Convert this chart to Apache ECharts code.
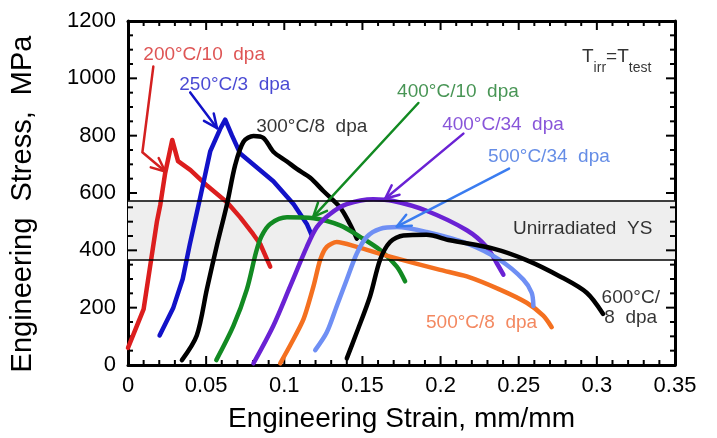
<!DOCTYPE html>
<html><head><meta charset="utf-8">
<script src="https://cdn.jsdelivr.net/npm/echarts@6/dist/echarts.min.js"></script>
<style>html,body{margin:0;padding:0;background:#fff}#c{width:717px;height:438px}</style>
</head><body><div id="c"></div>
<script>
// ---- data (strain mm/mm, stress MPa) ----
const red200 = [[0,60],[0.010,195],[0.0185,500],[0.0207,560],[0.0238,670],[0.0283,785],[0.032,711],[0.040,680],[0.0507,625],[0.0635,567],[0.0718,515],[0.080,457],[0.0846,422],[0.091,343]];
const blue250 = [[0.0202,103],[0.029,200],[0.0350,300],[0.0395,420],[0.0462,584],[0.0526,745],[0.059,824],[0.0622,856],[0.0665,801],[0.0718,738],[0.093,641],[0.106,561],[0.1144,492],[0.1176,452]];
const black300 = [[0.0345,17],[0.044,103],[0.0505,265],[0.057,420],[0.0633,560],[0.0686,698],[0.0739,779],[0.0803,799],[0.0867,792],[0.093,744],[0.1017,710],[0.108,684],[0.1166,653],[0.125,607],[0.1357,550],[0.142,492],[0.1464,441]];
const green400_10 = [[0.0565,17],[0.0675,137],[0.076,263],[0.0820,395],[0.0855,450],[0.091,492],[0.1017,515],[0.1187,512],[0.1357,487],[0.1485,447],[0.1613,401],[0.172,343],[0.1773,292]];
const purple400_34 = [[0.0803,6],[0.093,137],[0.1038,275],[0.1144,412],[0.1208,481],[0.1293,527],[0.14,561],[0.157,578],[0.1698,572],[0.191,538],[0.2168,470],[0.2295,412],[0.236,355],[0.2402,315]];
const orange500_8 = [[0.0974,6],[0.1038,69],[0.1123,160],[0.1187,275],[0.123,367],[0.1272,412],[0.1336,429],[0.1464,412],[0.1677,378],[0.1997,332],[0.2168,309],[0.238,263],[0.2551,217],[0.2657,172],[0.2711,132]];
const lblue500_34 = [[0.1198,52],[0.1272,114],[0.1336,206],[0.14,298],[0.1464,389],[0.1528,447],[0.1613,475],[0.172,481],[0.191,464],[0.2168,424],[0.238,366],[0.253,298],[0.2583,252],[0.2594,206]];
const black600 = [[0.14,23],[0.1464,114],[0.1549,240],[0.1613,367],[0.1677,429],[0.1762,452],[0.191,454],[0.206,435],[0.2338,406],[0.255,366],[0.2764,309],[0.2935,252],[0.304,178]];

// unirradiated yield strength band
const ysLow = 367, ysHigh = 574;

// arrows (label -> curve), last point is the tip
const redArrow = [[0.0162,1041],[0.0092,742],[0.0238,675]];
const blueArrow = [[0.0398,951],[0.057,826]];
const greenArrow = [[0.1858,914],[0.1185,517]];
const purpleArrow = [[0.2146,807],[0.1645,580]];
const lblueArrow = [[0.2438,685],[0.172,483]];

// text annotations: [text, x, y, color, align]
const notes = [
  ['200°C/10  dpa', 0.0098, 1082, '#d62a2a', 'left'],
  ['250°C/3  dpa', 0.0328, 979, '#1a1ac8', 'left'],
  ['300°C/8  dpa', 0.082, 831, '#000000', 'left'],
  ['400°C/10  dpa', 0.1722, 952, '#1a7a2a', 'left'],
  ['400°C/34  dpa', 0.201, 838, '#6a2ad0', 'left'],
  ['500°C/34  dpa', 0.2304, 725, '#3f70e0', 'left'],
  ['Unirradiated  YS', 0.2463, 474, '#000000', 'left'],
  ['600°C/\n8  dpa', 0.3217, 198, '#000000', 'center'],
  ['500°C/8  dpa', 0.1907, 148, '#f06a38', 'left']
];
const tirrPos = [0.2905, 1060];

const xTicks = [0,0.05,0.1,0.15,0.2,0.25,0.3,0.35];
const yTicks = [0,200,400,600,800,1000,1200];
const xMinorPerMajor = 5, yMinorPerMajor = 4;

const FONT = 'Liberation Sans, Arial, Helvetica, sans-serif';
const chart = echarts.init(document.getElementById('c'), null, {renderer:'canvas'});
const X0 = xTicks[0], X1 = xTicks[xTicks.length-1], Y0 = yTicks[0], Y1 = yTicks[yTicks.length-1];

// tick marks (inside, on all four sides): [value, dim(0=x,1=y), length]
const tickItems = [];
function addTicks(ticks, n, dim){
  for (let i=0;i<ticks.length;i++){
    tickItems.push([ticks[i], dim, 9]);
    if (i<ticks.length-1){
      const step = (ticks[i+1]-ticks[i])/n;
      for (let k=1;k<n;k++) tickItems.push([ticks[i]+k*step, dim, 5]);
    }
  }
}
addTicks(xTicks, xMinorPerMajor, 0);
addTicks(yTicks, yMinorPerMajor, 1);

const arrowList = [
  [redArrow,'#d42020'],[blueArrow,'#1212c8'],[greenArrow,'#128a22'],
  [purpleArrow,'#6a22d4'],[lblueArrow,'#3a7cf0']
];

function mkAxis(dim, pos, ticks, interval, showLabel){
  return {
    type:'value', position:pos, min:ticks[0], max:ticks[ticks.length-1], interval:interval,
    axisLine:{show:true,onZero:false,lineStyle:{color:'#000',width:3}},
    axisTick:{show:false}, minorTick:{show:false},
    splitLine:{show:false}, minorSplitLine:{show:false},
    axisLabel:{show:showLabel,color:'#000',fontSize:22,fontFamily:FONT,margin:dim==='x'?10:12,
      formatter:v=>String(parseFloat(Number(v).toFixed(2)))}
  };
}
function curve(data,color,smooth){
  return {type:'line',data:data,showSymbol:false,symbol:'none',smooth:smooth,z:3,
    lineStyle:{color:color,width:4.5,cap:'round',join:'round'}};
}

const xMain = mkAxis('x','bottom',xTicks,0.05,true);
Object.assign(xMain,{name:'Engineering Strain, mm/mm',nameLocation:'middle',nameGap:40,
  nameTextStyle:{fontSize:28,fontFamily:FONT,color:'#000'}});
const yMain = mkAxis('y','left',yTicks,200,true);
Object.assign(yMain,{name:'Engineering  Stress,  MPa',nameLocation:'middle',nameGap:91,
  nameTextStyle:{fontSize:29,fontFamily:FONT,color:'#000',padding:[0,22,0,0]}});

const option = {
  animation:false,
  grid:{left:128,right:42,top:21,bottom:68},
  xAxis:[xMain, mkAxis('x','top',xTicks,0.05,false)],
  yAxis:[yMain, mkAxis('y','right',yTicks,200,false)],
  series:[
    {type:'line',data:[],z:1,
      markArea:{silent:true,itemStyle:{color:'#eeeeee'},
        data:[[{coord:[X0,ysLow]},{coord:[X1,ysHigh]}]]},
      markLine:{silent:true,symbol:'none',label:{show:false},lineStyle:{color:'#000',width:1.5,type:'solid'},
        data:[{yAxis:ysLow},{yAxis:ysHigh}]}},
    {type:'custom',z:2,silent:true,clip:false,data:tickItems,
      renderItem:function(params,api){
        const v = api.value(0), dim = api.value(1), len = api.value(2);
        const st = {stroke:'#000',lineWidth:2};
        if (dim===0){
          const a = api.coord([v,Y0]), b = api.coord([v,Y1]);
          return {type:'group',children:[
            {type:'line',shape:{x1:a[0],y1:a[1],x2:a[0],y2:a[1]-len},style:st},
            {type:'line',shape:{x1:b[0],y1:b[1],x2:b[0],y2:b[1]+len},style:st}]};
        } else {
          const a = api.coord([X0,v]), b = api.coord([X1,v]);
          return {type:'group',children:[
            {type:'line',shape:{x1:a[0],y1:a[1],x2:a[0]+len,y2:a[1]},style:st},
            {type:'line',shape:{x1:b[0],y1:b[1],x2:b[0]-len,y2:b[1]},style:st}]};
        }
      }},
    curve(red200,'#dc1e1e',false),
    curve(blue250,'#1212c8',false),
    curve(black300,'#000000',0.3),
    curve(green400_10,'#128a22',0.3),
    curve(purple400_34,'#6a22d4',0.3),
    curve(orange500_8,'#f47020',0.25),
    curve(lblue500_34,'#6f8ff4',0.3),
    curve(black600,'#000000',0.3),
    {type:'custom',z:4,silent:true,clip:false,data:arrowList.map((a,i)=>[a[0][a[0].length-1][0],a[0][a[0].length-1][1],i]),
      renderItem:function(params,api){
        const idx = api.value(2);
        const arr = arrowList[idx];
        const pts = arr[0].map(p=>api.coord(p));
        const tip = pts[pts.length-1], prev = pts[pts.length-2];
        const ang = Math.atan2(tip[1]-prev[1], tip[0]-prev[0]);
        const L = 15, spread = 0.42;
        const h1 = [tip[0]-L*Math.cos(ang-spread), tip[1]-L*Math.sin(ang-spread)];
        const h2 = [tip[0]-L*Math.cos(ang+spread), tip[1]-L*Math.sin(ang+spread)];
        const st = {stroke:arr[1],lineWidth:2.5,fill:null,lineJoin:'round',lineCap:'round'};
        return {type:'group',children:[
          {type:'polyline',shape:{points:pts},style:st},
          {type:'polyline',shape:{points:[h1,tip,h2]},style:st}]};
      }},
    {type:'scatter',symbolSize:0,z:5,silent:true,
      data:notes.map(n=>({value:[n[1],n[2]],name:n[0],
        label:{show:true,position:[0,0],formatter:n[0],color:n[3],align:n[4],verticalAlign:'middle',
          fontSize:19,fontFamily:FONT,lineHeight:20}}))},
    {type:'scatter',symbolSize:0,z:5,silent:true,
      data:[{value:tirrPos,
        label:{show:true,position:[0,0],align:'left',verticalAlign:'middle',
          formatter:'{b|T}{s|irr}{b|=T}{s|test}',
          rich:{b:{fontSize:19,fontFamily:FONT,color:'#000',lineHeight:28,verticalAlign:'top'},
                s:{fontSize:14,fontFamily:FONT,color:'#000',lineHeight:28,verticalAlign:'bottom'}}}}]}
  ]
};
chart.setOption(option);
</script></body></html>
